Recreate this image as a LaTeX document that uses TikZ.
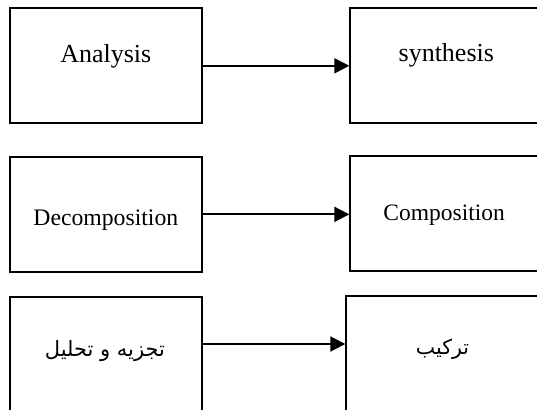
\documentclass[tikz,border=0pt]{standalone}
\usepackage{fontspec}
\setmainfont{Liberation Serif}
\newfontfamily\arabicfont[Script=Arabic]{DejaVu Sans}
\TeXXeTstate=1
\usetikzlibrary{arrows.meta}
\tikzset{
  box/.style={draw=black, line width=2pt, rectangle, inner sep=0pt, fill=none},
  lbl/.style={inner sep=0pt, anchor=base},
  conn/.style={line width=2pt, -{Triangle[length=15pt,width=15pt]}}
}
\begin{document}
\begin{tikzpicture}[x=1pt,y=-1pt]
\useasboundingbox (0,0) rectangle (537,409);
\clip (0,0) rectangle (537,409);
\fill[white] (0,0) rectangle (537,409);
% row 1
\node[box, minimum width=191.4pt, minimum height=115pt] (a1) at (106,65.8) {};
\node[box, minimum width=209.7pt, minimum height=115pt] (b1) at (455.15,65.8) {};
\node[lbl, font=\fontsize{26}{30}\selectfont] (ta1) at (105.8,62.7) {Analysis};
\node[lbl, font=\fontsize{26}{30}\selectfont] (tb1) at (446.3,61.7) {synthesis};
\draw[conn] (a1.east) -- (b1.west);
% row 2
\node[box, minimum width=191.4pt, minimum height=114.7pt] (a2) at (106,214.35) {};
\node[box, minimum width=209.7pt, minimum height=114.7pt] (b2) at (455.15,213.65) {};
\node[lbl, font=\fontsize{23.7}{28}\selectfont] (ta2) at (105.8,225.7) {Decomposition};
\node[lbl, font=\fontsize{23.5}{28}\selectfont] (tb2) at (444.2,220) {Composition};
\draw[conn] (a2.east) -- (a2.east -| b2.west);
% row 3
\node[box, minimum width=191.4pt, minimum height=133pt] (a3) at (106,363.5) {};
\node[box, minimum width=213.7pt, minimum height=133.7pt] (b3) at (453.15,363.15) {};
\node[lbl, font=\fontsize{21}{25}\selectfont] (ta3) at (105,356) {\arabicfont\beginR تجزیه و تحلیل\endR};
\node[lbl, font=\fontsize{20.5}{25}\selectfont] (tb3) at (442.5,354) {\arabicfont\beginR ترکیب\endR};
\coordinate (s3) at ([yshift=-48pt]a3.north east);
\draw[conn] (s3) -- (s3 -| b3.west);
\end{tikzpicture}
\end{document}
